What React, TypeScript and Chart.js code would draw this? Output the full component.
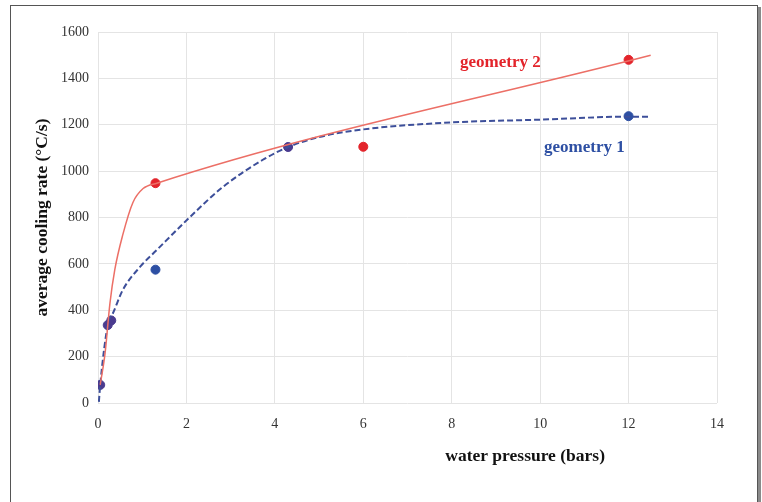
import React, { useEffect, useRef } from "react";
import { Chart, registerables } from "chart.js";

Chart.register(...registerables);

// Measured points
const geom2Points = [
  { x: 1.3, y: 948 },
  { x: 6, y: 1105 },
  { x: 12, y: 1480 },
];
const geom1Points = [
  { x: 1.3, y: 575 },
  { x: 12, y: 1237 },
];
// points shared by both geometries (overlapping, drawn purple)
const sharedPoints = [
  { x: 0.05, y: 78 },
  { x: 0.22, y: 336 },
  { x: 0.3, y: 356 },
  { x: 4.3, y: 1104 },
];

// Trend curves
const geom2CurveX = [0.05, 0.16, 0.27, 0.38, 0.56, 0.79, 1.02, 1.33, 12.5];
const geom2CurveY = [78, 215, 430, 575, 725, 865, 925, 948, 1500];
const geom1CurveX = [0.02, 0.05, 0.23, 0.34, 0.56, 0.95, 1.33, 2.08, 2.82, 3.72, 4.3, 5, 6, 8, 10, 12, 12.5];
const geom1CurveY = [5, 78, 345, 388, 487, 587, 660, 802, 931, 1048, 1104, 1147, 1180, 1210, 1222, 1235, 1235];

// Labels
const labelTexts = ["geometry 2", "geometry 1"];
const labelX = [9.1, 11.0];
const labelY = [1470, 1100];

const xTitle = "water pressure (bars)";
const yTitle = "average cooling rate (°C/s)";

const RED = "#e3242b";
const RED_LINE = "#ec6f66";
const BLUE = "#2d4fa3";
const BLUE_LINE = "#3d4f9a";
const PURPLE = "#4a3b8f";
const FONT = "'Liberation Serif', 'DejaVu Serif', serif";

const zip = (xs: number[], ys: number[]) => xs.map((x, i) => ({ x, y: ys[i] }));

const framePlugin = {
  id: "frame",
  beforeDraw(chart: any) {
    const ctx = chart.ctx;
    ctx.save();
    ctx.fillStyle = "#ffffff";
    ctx.fillRect(0, 0, chart.width, chart.height);
    ctx.fillStyle = "#8a8a8a";
    ctx.fillRect(757, 7, 4, 495);
    ctx.strokeStyle = "#555555";
    ctx.lineWidth = 1;
    ctx.strokeRect(10.5, 5.5, 747, 500);
    ctx.restore();
  },
};

const labelPlugin = {
  id: "curveLabels",
  afterDatasetsDraw(chart: any) {
    const ctx = chart.ctx;
    const xs = chart.scales.x;
    const ys = chart.scales.y;
    const area = chart.chartArea;
    ctx.save();
    ctx.font = `bold 17px ${FONT}`;
    ctx.textAlign = "center";
    ctx.textBaseline = "middle";
    const colors = [RED, BLUE];
    labelTexts.forEach((t, i) => {
      ctx.fillStyle = colors[i];
      ctx.fillText(t, xs.getPixelForValue(labelX[i]), ys.getPixelForValue(labelY[i]));
    });
    // x axis title, offset to the right as in the original
    ctx.font = `bold 17.5px ${FONT}`;
    ctx.fillStyle = "#111";
    ctx.fillText(xTitle, area.left + (area.right - area.left) * 0.69, area.bottom + 53);
    ctx.restore();
  },
};

export default function App() {
  const ref = useRef<HTMLCanvasElement>(null);
  useEffect(() => {
    if (!ref.current) return;
    const chart = new Chart(ref.current, {
      type: "scatter",
      data: {
        datasets: [
          {
            label: "geometry 2 fit",
            data: zip(geom2CurveX, geom2CurveY),
            showLine: true,
            borderColor: RED_LINE,
            borderWidth: 1.5,
            pointRadius: 0,
            cubicInterpolationMode: "monotone",
          } as any,
          {
            label: "geometry 1 fit",
            data: zip(geom1CurveX, geom1CurveY),
            showLine: true,
            borderColor: BLUE_LINE,
            borderWidth: 2,
            borderDash: [6, 3],
            pointRadius: 0,
            cubicInterpolationMode: "monotone",
          } as any,
          {
            label: "geometry 2",
            data: geom2Points,
            backgroundColor: RED,
            borderColor: RED,
            pointRadius: 4.5,
          },
          {
            label: "geometry 1",
            data: geom1Points,
            backgroundColor: BLUE,
            borderColor: BLUE,
            pointRadius: 4.5,
          },
          {
            label: "both",
            data: sharedPoints,
            backgroundColor: PURPLE,
            borderColor: PURPLE,
            pointRadius: 4.5,
          },
        ],
      },
      options: {
        animation: false,
        responsive: false,
        maintainAspectRatio: false,
        layout: { padding: { left: 28, right: 45, top: 32, bottom: 28 } },
        plugins: {
          legend: { display: false },
          tooltip: { enabled: false },
        },
        scales: {
          x: {
            type: "linear",
            min: 0,
            max: 14,
            ticks: {
              stepSize: 2,
              color: "#333",
              font: { family: FONT, size: 14 },
              padding: 13,
              callback: (v: any) => String(v),
            },
            grid: { color: "#e4e4e4", drawTicks: false },
            border: { display: false },
            title: { display: false, text: xTitle },
            afterFit: (s: any) => {
              s.height = 71;
            },
          },
          y: {
            type: "linear",
            min: 0,
            max: 1600,
            ticks: {
              stepSize: 200,
              color: "#333",
              font: { family: FONT, size: 14 },
              padding: 9,
              callback: (v: any) => String(v),
            },
            grid: { color: "#e4e4e4", drawTicks: false },
            border: { display: false },
            title: {
              display: true,
              text: yTitle,
              color: "#111",
              font: { family: FONT, size: 17.5, weight: "bold" },
              padding: { bottom: 5 },
            },
            afterFit: (s: any) => {
              s.width = 70;
            },
          },
        },
      } as any,
      plugins: [framePlugin, labelPlugin],
    });
    return () => chart.destroy();
  }, []);
  return (
    <div style={{ position: "fixed", left: 0, top: 0, width: 762, height: 502 }}>
      <canvas ref={ref} width={762} height={502} style={{ display: "block" }} />
    </div>
  );
}
